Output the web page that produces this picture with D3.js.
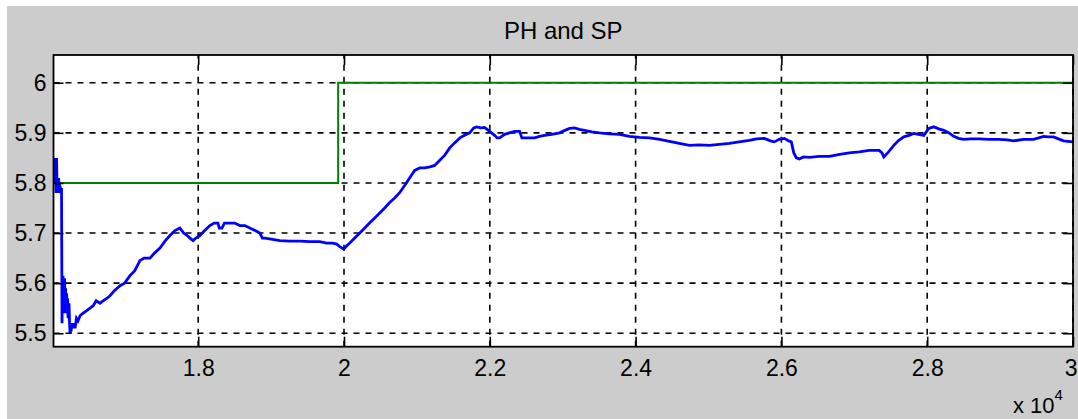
<!DOCTYPE html>
<html>
<head>
  <style>
    body { margin: 0; background: #fff; }
    text { font-family: "Liberation Sans", Arial, sans-serif; fill: #000; }
    .grid line { stroke: #000; stroke-width: 1.6px; stroke-dasharray: 6, 6; }
    .ph { fill: none; stroke: #0000ff; stroke-width: 2.8px; stroke-linejoin: miter; }
    .sp { fill: none; stroke: #008000; stroke-width: 2px; }
  </style>
</head>
<body>
  <script src="https://d3js.org/d3.v7.min.js"></script>
  <script>
    var width = 1078, height = 419;

    var title = "PH and SP";
    var xTicks = [18000, 20000, 22000, 24000, 26000, 28000, 30000];
    var xTickLabels = ["1.8", "2", "2.2", "2.4", "2.6", "2.8", "3"];
    var yTicks = [5.5, 5.6, 5.7, 5.8, 5.9, 6];
    var yTickLabels = ["5.5", "5.6", "5.7", "5.8", "5.9", "6"];

    // setpoint (step)
    var spX = [16015, 19920, 19920, 30000];
    var spY = [5.8, 5.8, 6.0, 6.0];

    var phX = [16023, 16030, 16037, 16044, 16050, 16057, 16064, 16071, 16078, 16085,
               16091, 16100, 16110, 16119, 16125, 16132, 16136, 16140, 16146, 16150,
               16155, 16160, 16167, 16174, 16180, 16187, 16194, 16201, 16208, 16215,
               16228, 16235, 16242, 16256, 16270, 16283, 16297, 16311, 16330, 16352,
               16379, 16420, 16470, 16516, 16560, 16600, 16653, 16700, 16750, 16790,
               16850, 16927, 16990, 17064, 17130, 17201, 17260, 17338, 17400, 17475,
               17550, 17612, 17680, 17749, 17800, 17850, 17886, 17930, 17968, 18023,
               18090, 18160, 18220, 18270, 18290, 18325, 18360, 18434, 18500, 18571,
               18640, 18708, 18780, 18845, 18880, 18914, 19000, 19120, 19250, 19394,
               19530, 19668, 19760, 19846, 19900, 19942, 19997, 20040, 20079, 20147,
               20216, 20284, 20350, 20421, 20490, 20558, 20620, 20695, 20760, 20832,
               20900, 20969, 21040, 21106, 21180, 21243, 21310, 21380, 21450, 21517,
               21590, 21654, 21723, 21780, 21819, 21880, 21928, 21997, 22066, 22100,
               22134, 22203, 22270, 22340, 22409, 22440, 22477, 22540, 22614, 22680,
               22751, 22850, 22957, 23030, 23094, 23162, 23230, 23299, 23400, 23505,
               23642, 23779, 23916, 24050, 24190, 24330, 24464, 24600, 24738, 24870,
               25012, 25150, 25286, 25420, 25560, 25660, 25766, 25850, 25903, 25970,
               26040, 26100, 26136, 26170, 26205, 26246, 26300, 26383, 26520, 26657,
               26800, 26931, 27070, 27205, 27342, 27380, 27405, 27470, 27542, 27610,
               27679, 27750, 27816, 27880, 27953, 28022, 28090, 28160, 28227, 28300,
               28364, 28430, 28501, 28600, 28707, 28850, 28981, 29100, 29186, 29323,
               29460, 29530, 29597, 29660, 29734, 29800, 29871, 29930, 30000];
    var phY = [5.83, 5.85, 5.80, 5.84, 5.78, 5.85, 5.79, 5.80, 5.78, 5.81,
               5.79, 5.795, 5.79, 5.78, 5.79, 5.52, 5.61, 5.56, 5.615, 5.54,
               5.60, 5.55, 5.61, 5.545, 5.59, 5.54, 5.58, 5.55, 5.57, 5.53,
               5.56, 5.52, 5.50, 5.505, 5.52, 5.51, 5.52, 5.51, 5.53, 5.525,
               5.535, 5.54, 5.545, 5.55, 5.555, 5.565, 5.56, 5.565, 5.57, 5.575,
               5.585, 5.595, 5.60, 5.615, 5.625, 5.645, 5.65, 5.65, 5.66, 5.67,
               5.685, 5.695, 5.705, 5.71, 5.70, 5.695, 5.69, 5.685, 5.69, 5.695,
               5.705, 5.715, 5.72, 5.72, 5.71, 5.71, 5.72, 5.72, 5.72, 5.715,
               5.715, 5.71, 5.705, 5.70, 5.69, 5.69, 5.688, 5.685, 5.684, 5.684,
               5.683, 5.683, 5.68, 5.68, 5.678, 5.673, 5.668, 5.675, 5.68, 5.69,
               5.70, 5.71, 5.72, 5.73, 5.74, 5.75, 5.76, 5.77, 5.78, 5.795,
               5.81, 5.825, 5.83, 5.83, 5.832, 5.835, 5.845, 5.855, 5.87, 5.88,
               5.89, 5.895, 5.90, 5.91, 5.912, 5.91, 5.911, 5.903, 5.895, 5.89,
               5.89, 5.897, 5.90, 5.903, 5.903, 5.89, 5.89, 5.89, 5.89, 5.893,
               5.895, 5.897, 5.90, 5.905, 5.909, 5.91, 5.907, 5.905, 5.902, 5.90,
               5.898, 5.897, 5.893, 5.891, 5.89, 5.887, 5.883, 5.879, 5.875, 5.876,
               5.875, 5.877, 5.879, 5.882, 5.885, 5.888, 5.889, 5.884, 5.882, 5.887,
               5.889, 5.884, 5.882, 5.86, 5.85, 5.848, 5.852, 5.851, 5.853, 5.853,
               5.857, 5.86, 5.862, 5.865, 5.865, 5.86, 5.852, 5.862, 5.875, 5.885,
               5.892, 5.895, 5.899, 5.897, 5.895, 5.909, 5.912, 5.908, 5.905, 5.90,
               5.893, 5.889, 5.887, 5.888, 5.888, 5.887, 5.887, 5.886, 5.884, 5.887,
               5.887, 5.89, 5.893, 5.892, 5.892, 5.888, 5.884, 5.883, 5.882];

    var margin = {left: 53.5, top: 55, right: 5, bottom: 72.3};

    var svg = d3.select("body").append("svg")
        .attr("width", width)
        .attr("height", height);

    // grey figure background
    svg.append("rect")
        .attr("x", 7).attr("y", 6)
        .attr("width", width - 7).attr("height", height - 6)
        .attr("fill", "#cccccc");

    var x = d3.scaleLinear()
        .domain([16015, 30000])
        .range([margin.left, width - margin.right]);

    var y = d3.scaleLinear()
        .domain([5.4732, 6.0554])
        .range([height - margin.bottom, margin.top]);

    var x0 = x.range()[0], x1 = x.range()[1],
        y0 = y.range()[0], y1 = y.range()[1];

    svg.append("rect")
        .attr("x", x0).attr("y", y1)
        .attr("width", x1 - x0).attr("height", y0 - y1)
        .attr("fill", "#fff");

    var grid = svg.append("g").attr("class", "grid");
    grid.selectAll(".gx").data(xTicks).enter().append("line")
        .attr("x1", d => x(d)).attr("x2", d => x(d))
        .attr("y1", y0).attr("y2", y1);
    grid.selectAll(".gy").data(yTicks).enter().append("line")
        .attr("x1", x0).attr("x2", x1)
        .attr("y1", d => y(d)).attr("y2", d => y(d));

    svg.append("clipPath").attr("id", "clip")
      .append("rect")
        .attr("x", x0).attr("y", y1)
        .attr("width", x1 - x0).attr("height", y0 - y1);

    var line = d3.line()
        .x(d => x(d[0]))
        .y(d => y(d[1]));

    svg.append("path")
        .datum(spX.map((d, i) => [d, spY[i]]))
        .attr("class", "sp")
        .attr("clip-path", "url(#clip)")
        .attr("d", line);

    svg.append("path")
        .datum(phX.map((d, i) => [d, phY[i]]))
        .attr("class", "ph")
        .attr("clip-path", "url(#clip)")
        .attr("d", line);

    // axes: ticks point inwards, on all four sides
    var tickLen = 10, fs = 23;
    var fmtX = (d, i) => xTickLabels[i];
    var fmtY = (d, i) => yTickLabels[i];

    var axB = svg.append("g").attr("transform", "translate(0," + y0 + ")")
        .call(d3.axisBottom(x).tickValues(xTicks).tickFormat(fmtX).tickSizeInner(-tickLen).tickSizeOuter(0).tickPadding(13));
    var axT = svg.append("g").attr("transform", "translate(0," + y1 + ")")
        .call(d3.axisTop(x).tickValues(xTicks).tickFormat("").tickSizeInner(-tickLen).tickSizeOuter(0));
    var axL = svg.append("g").attr("transform", "translate(" + x0 + ",0)")
        .call(d3.axisLeft(y).tickValues(yTicks).tickFormat(fmtY).tickSizeInner(-tickLen).tickSizeOuter(0).tickPadding(7));
    var axR = svg.append("g").attr("transform", "translate(" + x1 + ",0)")
        .call(d3.axisRight(y).tickValues(yTicks).tickFormat("").tickSizeInner(-tickLen).tickSizeOuter(0));

    [axB, axT, axL, axR].forEach(function(g) {
      g.select(".domain").remove();
      g.selectAll("line").attr("stroke", "#000").attr("stroke-width", 1.6);
      g.selectAll("text").style("font-size", fs + "px").attr("fill", "#000");
    });

    // last x label sits at the figure edge; nudge it in so it stays whole
    axB.selectAll("text").filter((d, i) => i === xTicks.length - 1)
        .attr("text-anchor", "end").attr("x", width - 1 - x1);

    svg.append("rect")
        .attr("x", x0).attr("y", y1)
        .attr("width", x1 - x0).attr("height", y0 - y1)
        .attr("fill", "none").attr("stroke", "#000").attr("stroke-width", 1.8);

    svg.append("text")
        .attr("x", (x0 + x1) / 2).attr("y", 39)
        .attr("text-anchor", "middle")
        .style("font-size", "24px")
        .text(title);

    var expo = svg.append("text")
        .attr("x", 1013).attr("y", 413)
        .style("font-size", "22px");
    expo.append("tspan").text("x 10");
    expo.append("tspan").attr("dy", -13).style("font-size", "15px").text("4");
  </script>
</body>
</html>
